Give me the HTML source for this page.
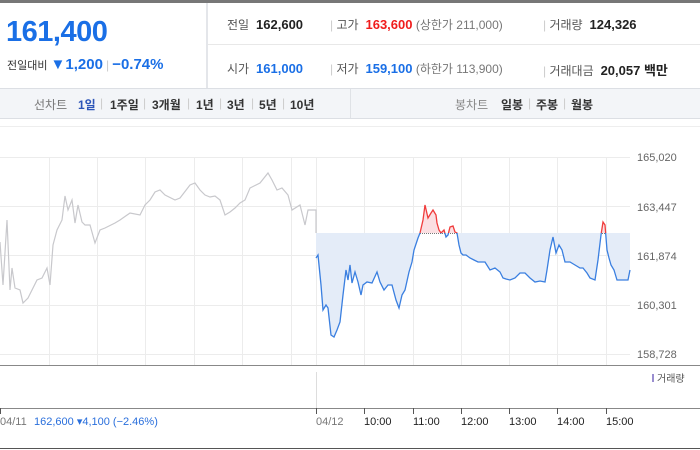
<!DOCTYPE html>
<html><head><meta charset="utf-8"><style>
*{margin:0;padding:0;box-sizing:border-box}
body{width:700px;height:450px;overflow:hidden;background:#fff;font-family:"Liberation Sans","Noto Sans CJK KR",sans-serif;position:relative}
.a{position:absolute;white-space:nowrap}
.lb{color:#555;font-size:12px}
.v{font-weight:bold;font-size:13px;color:#222}
.sep{color:#ccc;font-size:12px}
.g{color:#777;font-size:12px}
.t{position:absolute;top:96px;font-size:12px;font-weight:bold;color:#333;white-space:nowrap}
.s{position:absolute;top:96px;font-size:12px;color:#ccc}
</style></head><body>
<div class="a" style="left:0;top:0;width:700px;height:3px;background:#777"></div>
<div class="a" style="left:206px;top:3px;width:2px;height:85px;background:#e4e6ea"></div>
<div class="a" style="left:208px;top:44px;width:492px;height:1px;background:#e8e8e8"></div>
<div class="a" style="left:6px;top:16px;font-size:29px;font-weight:bold;color:#1a6fe6;letter-spacing:-0.5px">161,400</div>
<div class="a" style="left:7px;top:56px;font-size:11px;color:#333">전일대비 <span style="color:#1a6fe6;font-size:15px;font-weight:bold">▼1,200</span> <span class="sep">|</span> <span style="color:#1a6fe6;font-size:15px;font-weight:bold">−0.74%</span></div>
<div class="a lb" style="left:227px;top:16px">전일 <span class="v">&nbsp;162,600</span></div>
<div class="a lb" style="left:227px;top:60px">시가 <span class="v" style="color:#1a6fe6">&nbsp;161,000</span></div>
<div class="a lb" style="left:330px;top:16px"><span class="sep">|</span> 고가 <span class="v" style="color:#f01c1c">&nbsp;163,600</span> <span class="g">(상한가 211,000)</span></div>
<div class="a lb" style="left:330px;top:60px"><span class="sep">|</span> 저가 <span class="v" style="color:#1a6fe6">&nbsp;159,100</span> <span class="g">(하한가 113,900)</span></div>
<div class="a lb" style="left:543px;top:16px"><span class="sep">|</span> 거래량 <span class="v">&nbsp;124,326</span></div>
<div class="a lb" style="left:543px;top:60px"><span class="sep">|</span> 거래대금 <span class="v">&nbsp;20,057 백만</span></div>
<div class="a" style="left:0;top:88px;width:700px;height:31px;background:#f3f5f8;border-top:1px solid #dcdfe4;border-bottom:1px solid #dcdfe4"></div>
<div class="a" style="left:350px;top:89px;width:1px;height:29px;background:#dfe2e6"></div>
<div class="t" style="left:34px;color:#777;font-weight:normal">선차트</div>
<div class="t" style="left:78px;color:#2d55b8">1일</div><div class="s" style="left:100px">|</div>
<div class="t" style="left:110px">1주일</div><div class="s" style="left:143px">|</div>
<div class="t" style="left:152px">3개월</div><div class="s" style="left:187px">|</div>
<div class="t" style="left:196px">1년</div><div class="s" style="left:219px">|</div>
<div class="t" style="left:227px">3년</div><div class="s" style="left:251px">|</div>
<div class="t" style="left:259px">5년</div><div class="s" style="left:282px">|</div>
<div class="t" style="left:290px">10년</div>
<div class="t" style="left:455px;color:#888;font-weight:normal">봉차트</div>
<div class="t" style="left:501px">일봉</div><div class="s" style="left:528px">|</div>
<div class="t" style="left:536px">주봉</div><div class="s" style="left:563px">|</div>
<div class="t" style="left:571px">월봉</div>
<svg class="a" style="left:0;top:0" width="700" height="450">
<defs>
<clipPath id="below"><rect x="0" y="233" width="700" height="200"/></clipPath>
<clipPath id="above"><rect x="0" y="0" width="700" height="233"/></clipPath>
</defs>
<g stroke="#ececec" stroke-width="1">
<line x1="0" y1="157.5" x2="630" y2="157.5"/><line x1="0" y1="206.5" x2="630" y2="206.5"/><line x1="0" y1="255.5" x2="630" y2="255.5"/><line x1="0" y1="305.5" x2="630" y2="305.5"/><line x1="0" y1="354.5" x2="630" y2="354.5"/>
<line x1="49.5" y1="157" x2="49.5" y2="365"/><line x1="97.5" y1="157" x2="97.5" y2="365"/><line x1="145.5" y1="157" x2="145.5" y2="365"/><line x1="194.5" y1="157" x2="194.5" y2="365"/><line x1="242.5" y1="157" x2="242.5" y2="365"/><line x1="291.5" y1="157" x2="291.5" y2="365"/><line x1="316.5" y1="157" x2="316.5" y2="365"/><line x1="364.5" y1="157" x2="364.5" y2="365"/><line x1="413.5" y1="157" x2="413.5" y2="365"/><line x1="461.5" y1="157" x2="461.5" y2="365"/><line x1="509.5" y1="157" x2="509.5" y2="365"/><line x1="557.5" y1="157" x2="557.5" y2="365"/><line x1="606.5" y1="157" x2="606.5" y2="365"/>
</g>
<line x1="0" y1="126.5" x2="700" y2="126.5" stroke="#eee"/>
<polyline fill="none" stroke="#c8c8cc" stroke-width="1.2" points="0,242 3,285 7,220 10,290 12,268 15,288 20,290 23,303 28,298 32,290 37,280 42,278 47,268 50,285 53,245 57,230 62,220 65,196 68,210 72,200 75,223 78,205 82,222 85,225 90,225 95,243 100,230 105,228 115,223 120,220 130,213 140,215 145,205 150,200 155,192 160,190 165,195 175,200 180,198 190,185 195,183 200,190 205,195 210,197 215,196 220,200 225,215 230,212 235,208 240,203 245,200 250,188 260,183 268,173 272,180 277,190 282,188 288,195 292,210 300,205 305,225 308,210 316,210 316,233"/>
<line x1="316" y1="233.5" x2="630" y2="233.5" stroke="#777" stroke-dasharray="1,1"/>
<polygon clip-path="url(#below)" fill="#e4ecf8" points="316,233 316,258 318,255 321,285 323,310 326,305 328,308 331,335 334,337 337,330 340,322 343,295 346,270 348,280 350,265 352,283 355,272 358,282 361,295 363,285 367,282 372,283 377,272 380,282 384,290 388,285 392,285 396,300 399,308 402,295 405,290 409,272 412,262 414,250 418,238 420,233 423,220 425,205 428,218 431,213 433,210 436,215 437,223 439,230 441,233 444,230 446,237 448,235 450,227 453,226 455,232 457,233 459,245 461,253 463,255 466,255 470,258 474,260 478,262 480,262 485,262 490,270 495,268 500,272 503,278 506,279 510,280 515,278 520,273 525,273 530,278 535,282 540,281 545,282 547,270 550,250 553,237 556,253 559,245 562,250 565,262 570,262 575,265 580,268 583,268 587,273 590,278 595,280 598,260 601,235 603,222 605,225 607,250 609,258 611,265 614,270 617,280 624,280 628,280 630,270 630,233"/>
<polygon clip-path="url(#above)" fill="#fbdfe2" points="316,233 316,258 318,255 321,285 323,310 326,305 328,308 331,335 334,337 337,330 340,322 343,295 346,270 348,280 350,265 352,283 355,272 358,282 361,295 363,285 367,282 372,283 377,272 380,282 384,290 388,285 392,285 396,300 399,308 402,295 405,290 409,272 412,262 414,250 418,238 420,233 423,220 425,205 428,218 431,213 433,210 436,215 437,223 439,230 441,233 444,230 446,237 448,235 450,227 453,226 455,232 457,233 459,245 461,253 463,255 466,255 470,258 474,260 478,262 480,262 485,262 490,270 495,268 500,272 503,278 506,279 510,280 515,278 520,273 525,273 530,278 535,282 540,281 545,282 547,270 550,250 553,237 556,253 559,245 562,250 565,262 570,262 575,265 580,268 583,268 587,273 590,278 595,280 598,260 601,235 603,222 605,225 607,250 609,258 611,265 614,270 617,280 624,280 628,280 630,270 630,233"/>
<polyline clip-path="url(#below)" fill="none" stroke="#3a7fe0" stroke-width="1.3" points="316,258 318,255 321,285 323,310 326,305 328,308 331,335 334,337 337,330 340,322 343,295 346,270 348,280 350,265 352,283 355,272 358,282 361,295 363,285 367,282 372,283 377,272 380,282 384,290 388,285 392,285 396,300 399,308 402,295 405,290 409,272 412,262 414,250 418,238 420,233 423,220 425,205 428,218 431,213 433,210 436,215 437,223 439,230 441,233 444,230 446,237 448,235 450,227 453,226 455,232 457,233 459,245 461,253 463,255 466,255 470,258 474,260 478,262 480,262 485,262 490,270 495,268 500,272 503,278 506,279 510,280 515,278 520,273 525,273 530,278 535,282 540,281 545,282 547,270 550,250 553,237 556,253 559,245 562,250 565,262 570,262 575,265 580,268 583,268 587,273 590,278 595,280 598,260 601,235 603,222 605,225 607,250 609,258 611,265 614,270 617,280 624,280 628,280 630,270"/>
<polyline clip-path="url(#above)" fill="none" stroke="#f03c3c" stroke-width="1.3" points="316,258 318,255 321,285 323,310 326,305 328,308 331,335 334,337 337,330 340,322 343,295 346,270 348,280 350,265 352,283 355,272 358,282 361,295 363,285 367,282 372,283 377,272 380,282 384,290 388,285 392,285 396,300 399,308 402,295 405,290 409,272 412,262 414,250 418,238 420,233 423,220 425,205 428,218 431,213 433,210 436,215 437,223 439,230 441,233 444,230 446,237 448,235 450,227 453,226 455,232 457,233 459,245 461,253 463,255 466,255 470,258 474,260 478,262 480,262 485,262 490,270 495,268 500,272 503,278 506,279 510,280 515,278 520,273 525,273 530,278 535,282 540,281 545,282 547,270 550,250 553,237 556,253 559,245 562,250 565,262 570,262 575,265 580,268 583,268 587,273 590,278 595,280 598,260 601,235 603,222 605,225 607,250 609,258 611,265 614,270 617,280 624,280 628,280 630,270"/>
<g font-size="11" fill="#666" font-family="Liberation Sans,sans-serif">
<text x="637" y="161">165,020</text><text x="637" y="211">163,447</text><text x="637" y="260">161,874</text><text x="637" y="309">160,301</text><text x="637" y="358">158,728</text>
</g>
<line x1="0" y1="365.5" x2="700" y2="365.5" stroke="#888"/>
<line x1="316.5" y1="372" x2="316.5" y2="408" stroke="#ddd"/>
<rect x="652" y="374" width="2" height="8" fill="#9a8ed0"/>
<text x="657" y="382" font-size="10" fill="#555">거래량</text>
<line x1="0" y1="408.5" x2="700" y2="408.5" stroke="#888"/>
<g stroke="#555"><line x1="0.5" y1="408" x2="0.5" y2="414"/><line x1="316.5" y1="408" x2="316.5" y2="414"/><line x1="364.5" y1="408" x2="364.5" y2="414"/><line x1="413.5" y1="408" x2="413.5" y2="414"/><line x1="461.5" y1="408" x2="461.5" y2="414"/><line x1="509.5" y1="408" x2="509.5" y2="414"/><line x1="557.5" y1="408" x2="557.5" y2="414"/><line x1="606.5" y1="408" x2="606.5" y2="414"/></g>
<g font-size="11" fill="#222">
<text x="0" y="425" fill="#777">04/11</text><text x="34" y="425" fill="#2a6fdc">162,600 ▾4,100 (−2.46%)</text>
<text x="316" y="425" fill="#777">04/12</text><text x="364" y="425">10:00</text><text x="413" y="425">11:00</text><text x="461" y="425">12:00</text><text x="509" y="425">13:00</text><text x="557" y="425">14:00</text><text x="606" y="425">15:00</text>
</g>
<line x1="0" y1="448.5" x2="700" y2="448.5" stroke="#555"/>
</svg>
</body></html>
